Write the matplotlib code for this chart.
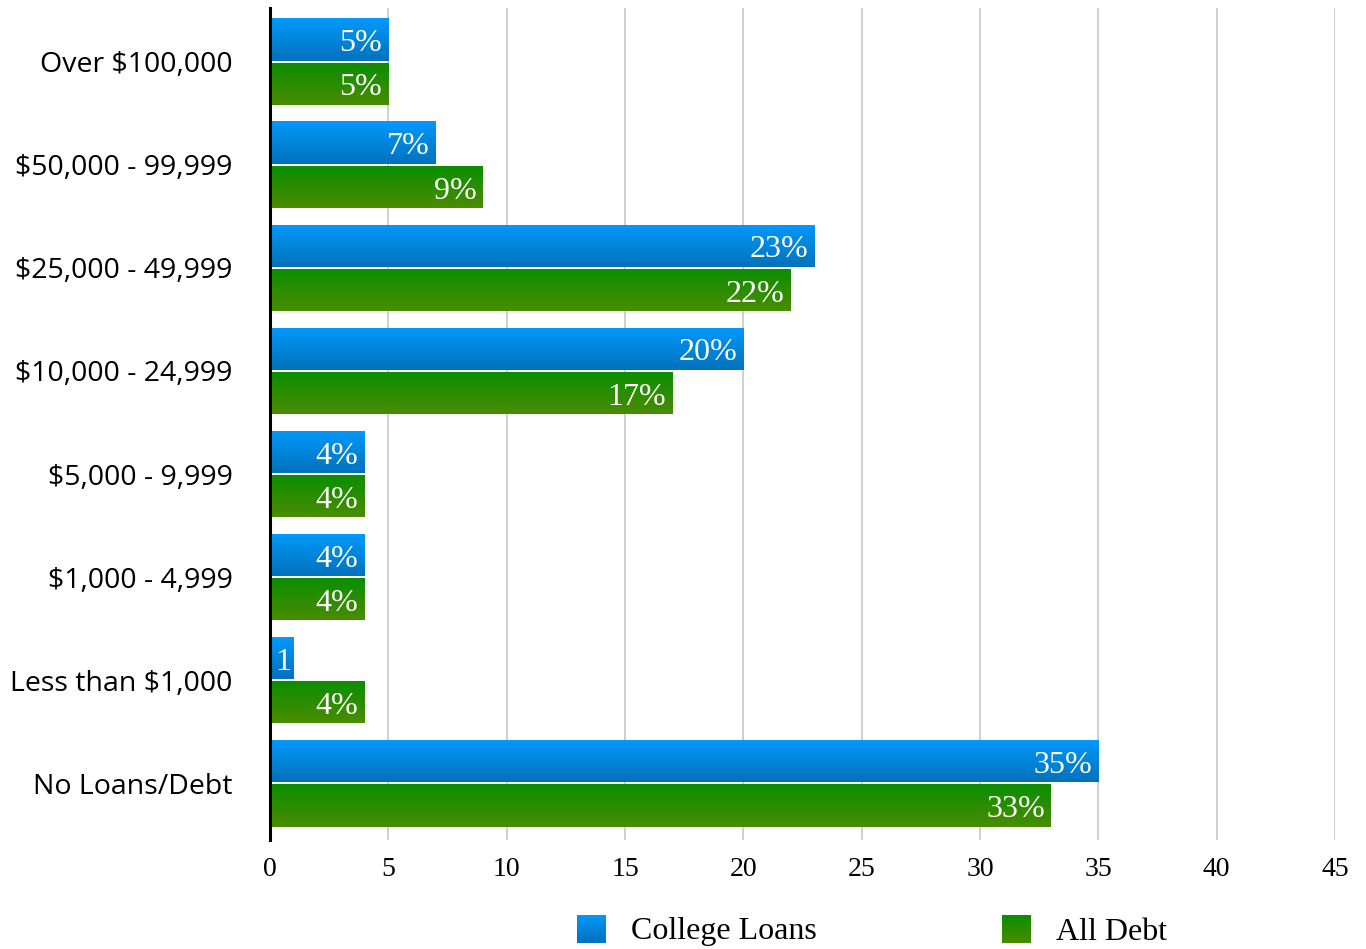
import numpy as np
import matplotlib
matplotlib.use("Agg")
import matplotlib.pyplot as plt
from matplotlib.colors import LinearSegmentedColormap

categories = ["Over $100,000", "$50,000 - 99,999", "$25,000 - 49,999",
              "$10,000 - 24,999", "$5,000 - 9,999", "$1,000 - 4,999",
              "Less than $1,000", "No Loans/Debt"]
college_loans = [5, 7, 23, 20, 4, 4, 1, 35]
all_debt = [5, 9, 22, 17, 4, 4, 4, 33]
series_names = ["College Loans", "All Debt"]
x_ticks = [0, 5, 10, 15, 20, 25, 30, 35, 40, 45]

blue_top, blue_bottom = "#0399FC", "#0072BC"
green_top, green_bottom = "#0A8E00", "#4A8C00"

serif = ["Liberation Serif", "DejaVu Serif"]
sans = ["Open Sans", "DejaVu Sans"]

fig = plt.figure(figsize=(13.66, 9.49), dpi=100)
W, H = 1366, 949
ax_left, ax_right, ax_top, ax_bottom = 270, 1335, 8, 840
ax = fig.add_axes([ax_left / W, 1 - ax_bottom / H,
                   (ax_right - ax_left) / W, (ax_bottom - ax_top) / H])

y = np.arange(len(categories))
bar_h = 0.41
off = 0.215


def gradient_fill(ax, bars, top, bottom):
    cmap = LinearSegmentedColormap.from_list("g", [top, bottom])
    grad = np.linspace(0, 1, 64).reshape(-1, 1)
    for b in bars:
        x0, y0 = b.get_x(), b.get_y()
        w, h = b.get_width(), b.get_height()
        im = ax.imshow(grad, cmap=cmap, aspect="auto",
                       extent=(x0, x0 + w, y0 + h, y0), zorder=3,
                       interpolation="bilinear")
        im.set_clip_path(b)
        b.set_facecolor("none")


bars_c = ax.barh(y - off, college_loans, height=bar_h, color=blue_top,
                 zorder=2, linewidth=0)
bars_a = ax.barh(y + off, all_debt, height=bar_h, color=green_top,
                 zorder=2, linewidth=0)
gradient_fill(ax, bars_c, blue_top, blue_bottom)
gradient_fill(ax, bars_a, green_top, green_bottom)

for bars, vals in ((bars_c, college_loans), (bars_a, all_debt)):
    for b, v in zip(bars, vals):
        label = f"{v}%" if v >= 2 else f"{v}"
        ax.annotate(label, (v, b.get_y() + b.get_height() / 2),
                    xytext=(-4.5 if v >= 2 else -2, -3),
                    textcoords="offset points",
                    ha="right", va="center", color="white",
                    fontsize=23, family=serif, zorder=5)

ax.set_xlim(0, 45)
ax.set_ylim(len(categories) - 0.45, -0.52)
ax.set_xticks(x_ticks)
ax.set_xticklabels([str(t) for t in x_ticks], family=serif, fontsize=20)
ax.set_yticks(y)
ax.set_yticklabels(categories, family=sans, fontsize=20.5)
for lbl in ax.get_yticklabels():
    lbl.set_verticalalignment("center_baseline")
ax.tick_params(axis="both", length=0)
ax.tick_params(axis="y", pad=27)
ax.tick_params(axis="x", pad=12)
ax.grid(axis="x", color="#CCCCCC", linewidth=1.3, zorder=0)
ax.set_axisbelow(True)
for s in ("top", "right", "bottom"):
    ax.spines[s].set_visible(False)
ax.spines["left"].set_linewidth(2.2)
ax.spines["left"].set_color("black")
ax.spines["left"].set_zorder(6)

# legend with gradient swatches
legend_items = [(series_names[0], blue_top, blue_bottom, 577),
                (series_names[1], green_top, green_bottom, 1002)]
for name, top, bottom, px in legend_items:
    sw = fig.add_axes([px / W, 1 - 943 / H, 29 / W, 28 / H])
    cmap = LinearSegmentedColormap.from_list("g", [top, bottom])
    sw.imshow(np.linspace(0, 1, 64).reshape(-1, 1), cmap=cmap,
              aspect="auto", interpolation="bilinear")
    sw.axis("off")
    fig.text((px + 54) / W, 1 - 932 / H, name, family=serif, fontsize=23,
             va="center", ha="left")

fig.savefig("out.png", dpi=100)
